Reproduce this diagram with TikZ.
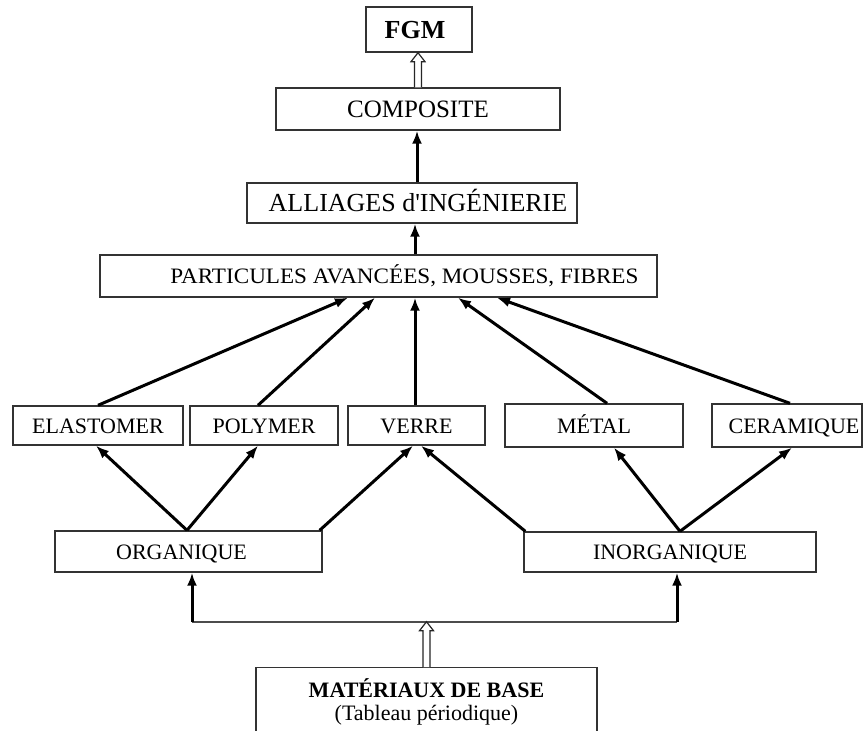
\documentclass[tikz,border=0pt]{standalone}
\usepackage{fontspec}
\setmainfont{Liberation Serif}
\usetikzlibrary{calc,arrows.meta}
\tikzset{
  box/.style={draw=black!80, line width=1.4pt, fill=white, inner sep=0pt,
    font=\fontsize{22}{24}\selectfont, text height=15pt, text depth=0pt},
  arr/.style={line width=3pt, -{Latex[length=13pt,width=10pt]}},
  hollowline/.style={line width=1.2pt, fill=white, draw=black!85},
  thinline/.style={line width=2pt, draw=black!70},
}
\newcommand\hollowarrow[2]{%
  \draw[hollowline] ($(#1)+(-3.5,0)$) -- ($(#2)+(-3.5,9)$) -- ($(#2)+(-7,9)$) -- (#2)
    -- ($(#2)+(7,9)$) -- ($(#2)+(3.5,9)$) -- ($(#1)+(3.5,0)$);}
\begin{document}
\begin{tikzpicture}[x=1pt,y=-1pt]
\useasboundingbox (0,0) rectangle (863,731);
\clip (0,0) rectangle (863,731);
% boxes
\node[box, minimum width=106, minimum height=45, font=\fontsize{26}{28}\selectfont\bfseries,
      text height=17pt, text depth=-9pt] (fgm) at (419,29.5) {FGM\hspace*{8pt}};
\node[box, minimum width=284, minimum height=42, font=\fontsize{25}{27}\selectfont,
      text height=17pt, text depth=-4pt] (comp) at (418,109) {COMPOSITE};
\node[box, minimum width=330, minimum height=40, font=\fontsize{26}{28}\selectfont,
      text height=17pt, text depth=-3pt] (all) at (412,203) {\hspace*{12pt}ALLIAGES d\textquotesingle INGÉNIERIE};
\node[box, minimum width=557, minimum height=42] (part) at (378.5,276)
      {\hspace*{52pt}\resizebox{468pt}{\height}{PARTICULES AVANCÉES, MOUSSES, FIBRES}};
\node[box, minimum width=170, minimum height=39] (elast) at (98,425.5) {ELASTOMER};
\node[box, minimum width=148, minimum height=39] (poly) at (264,425.5) {POLYMER};
\node[box, minimum width=137, minimum height=39] (verre) at (416.5,425.5) {VERRE};
\node[box, minimum width=178, minimum height=43] (metal) at (594,425.5) {MÉTAL};
\node[box, minimum width=150, minimum height=43] (ceram) at (787,425.5) {\hspace*{14pt}CERAMIQUE};
\node[box, minimum width=267, minimum height=41] (org) at (188.5,551.5) {ORGANIQUE\hspace*{14pt}};
\node[box, minimum width=292, minimum height=40] (inorg) at (670,552) {INORGANIQUE};
\node[box, anchor=north, minimum width=341, text height=30pt, text depth=60pt,
      font=\fontsize{22}{23}\selectfont] (base) at (426.5,667)
      {\begin{tabular}[t]{@{}c@{}}\textbf{MATÉRIAUX DE BASE}\\(Tableau périodique)\end{tabular}};
% upper chain
\hollowarrow{comp.north}{fgm.south -| comp.north}
\draw[arr] ($(all.north)+(5,0)$) -- ($(comp.south)+(-1,0)$);
\path ($(part.south)+(36.5,0)$) coordinate (pv);
\draw[arr] (part.north -| pv) -- (all.south -| pv);
% level to particules
\draw[arr] (elast.north) -- ($(part.south)+(-30.5,0)$);
\draw[arr] ($(poly.north)+(-6,0)$) -- ($(part.south)+(-3.5,0)$);
\draw[arr] ($(verre.north)+(-1.5,0)$) -- ($(part.south)+(36.5,0)$);
\draw[arr] ($(metal.north)+(13,0)$) -- ($(part.south)+(79.5,0)$);
\draw[arr] ($(ceram.north)+(3,0)$) -- ($(part.south)+(118.5,0)$);
% organique / inorganique to level
\draw[arr] ($(org.north)+(-1.5,0)$) -- ($(elast.south)+(-2,0)$);
\draw[arr] ($(org.north)+(-1.5,0)$) -- ($(poly.south)+(-6,0)$);
\draw[arr] ($(org.north east)+(-3,0)$) -- ($(verre.south)+(-3.5,0)$);
\draw[arr] ($(inorg.north west)+(2,0)$) -- ($(verre.south)+(4.5,0)$);
\draw[arr] ($(inorg.north)+(10,0)$) -- ($(metal.south)+(20,0)$);
\draw[arr] ($(inorg.north)+(10,0)$) -- ($(ceram.south)+(5,0)$);
% base distribution
\coordinate (hl) at ($(org.south)+(3.5,49)$);
\coordinate (hr) at ($(inorg.south)+(7,49)$);
\draw[thinline] (hl) -- (hr);
\draw[arr] (hl) -- (hl |- org.south);
\draw[arr] (hr) -- (hr |- inorg.south);
\hollowarrow{base.north}{base.north |- hl}
\end{tikzpicture}
\end{document}
